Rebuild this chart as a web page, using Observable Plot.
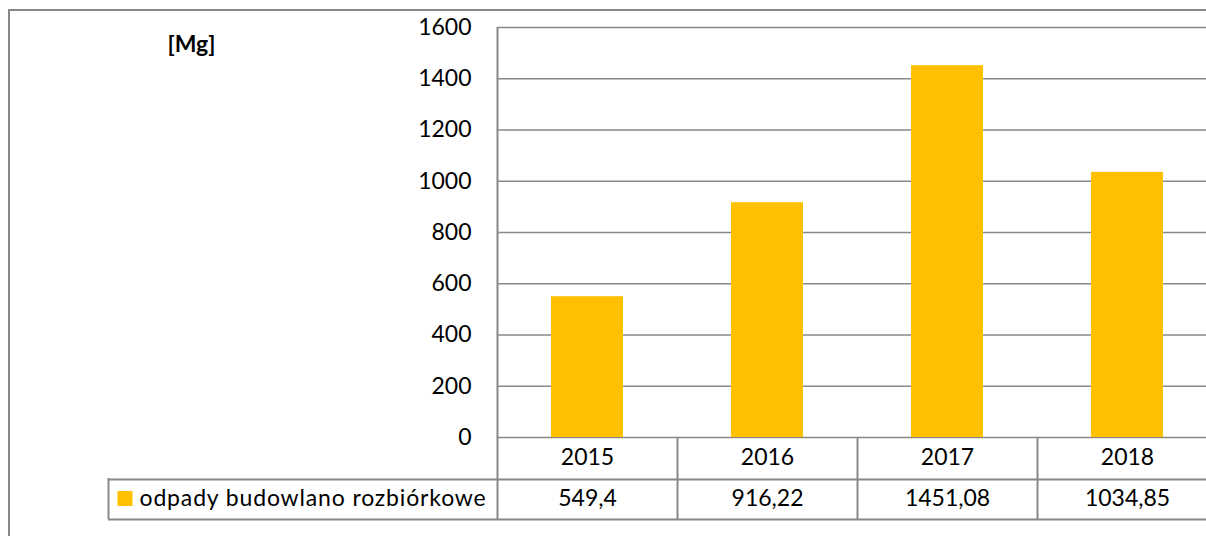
<!DOCTYPE html>
<html><head><meta charset="utf-8">
<script src="https://cdn.jsdelivr.net/npm/d3@7"></script>
<script src="https://cdn.jsdelivr.net/npm/@observablehq/plot@0.6"></script>
<style>
body{margin:0;background:#fff;overflow:hidden}
#wrap{position:relative;width:1206px;height:536px;overflow:hidden;background:#fff}
#wrap svg{position:absolute;left:0;top:0;background:transparent}
#border{position:absolute;left:8px;top:9px;width:2000px;height:2000px;border-left:2px solid #878787;border-top:2px solid #878787;pointer-events:none}
</style></head><body><div id="wrap"></div>
<script>
const years = ["2015", "2016", "2017", "2018"];
const values = [549.4, 916.22, 1451.08, 1034.85];
const valueLabels = ["549,4", "916,22", "1451,08", "1034,85"];
const seriesName = "odpady budowlano rozbiórkowe";
const unitLabel = "[Mg]";
const yTicks = [0, 200, 400, 600, 800, 1000, 1200, 1400, 1600];

const data = years.map((year, i) => ({year, value: values[i], label: valueLabels[i]}));

const gridColor = "#888888";
const font = "Lato";
const fs = 23;

const chart = Plot.plot({
  width: 1206,
  height: 536,
  marginLeft: 497,
  marginRight: 0,
  marginTop: 27,
  marginBottom: 17,
  style: {fontFamily: font, fontSize: fs + "px", color: "#000", background: "transparent"},
  x: {type: "band", domain: years, range: [497, 1217], padding: 0, axis: null},
  y: {domain: [0, 1600], range: [437, 27], axis: null},
  marks: [
    Plot.ruleY(yTicks, {stroke: gridColor, strokeWidth: 1.6}),
    Plot.barY(data, {x: "year", y: "value", fill: "#FFC000", insetLeft: 54, insetRight: 54}),
    Plot.axisY({ticks: yTicks, tickSize: 0, tickPadding: 26, fontSize: fs, fill: "#000", label: null, tickFormat: d => String(d)}),
    // plot area left border, extending through the data table
    Plot.ruleX([years[0]], {x: d => d, dx: -90, stroke: gridColor, strokeWidth: 2}),
    // column dividers within the data table
    Plot.ruleX(years.slice(1), {x: d => d, dx: -90, insetTop: 410, stroke: gridColor, strokeWidth: 2}),
    // table row lines
    Plot.ruleY([0], {dy: 42, insetLeft: -389, stroke: gridColor, strokeWidth: 2}),
    Plot.ruleY([0], {dy: 82, insetLeft: -389, stroke: gridColor, strokeWidth: 2}),
    // legend cell left edge
    Plot.ruleX([years[0]], {x: d => d, dx: -479, insetTop: 451, stroke: gridColor, strokeWidth: 2}),
    // year row
    Plot.text(data, {x: "year", text: "year", frameAnchor: "bottom", lineAnchor: "middle", dy: -61.5, fontSize: fs, fill: "#000"}),
    // value row
    Plot.text(data, {x: "year", text: "label", frameAnchor: "bottom", lineAnchor: "middle", dy: -21, fontSize: fs, fill: "#000"}),
    // legend swatch + name
    Plot.dot([seriesName], {frameAnchor: "bottom-left", dx: -372.5, dy: -21, symbol: "square", r: 8.46, fill: "#FFC000", stroke: null}),
    Plot.text([seriesName], {frameAnchor: "bottom-left", lineAnchor: "middle", dx: -358, dy: -21, textAnchor: "start", fontSize: fs, fill: "#000"}),
    // unit label
    Plot.text([unitLabel], {frameAnchor: "top-left", lineAnchor: "middle", dx: -330, dy: 17.5, textAnchor: "start", fontSize: fs, fontWeight: "bold", fill: "#000"})
  ]
});

// widen the legend label slightly to match the reference's font metrics
for (const t of chart.querySelectorAll("text")) {
  if (t.textContent === seriesName) t.style.letterSpacing = "0.85px";
}

const wrap = document.getElementById("wrap");
wrap.appendChild(chart);
const border = document.createElement("div");
border.id = "border";
wrap.appendChild(border);
</script>
</body></html>
